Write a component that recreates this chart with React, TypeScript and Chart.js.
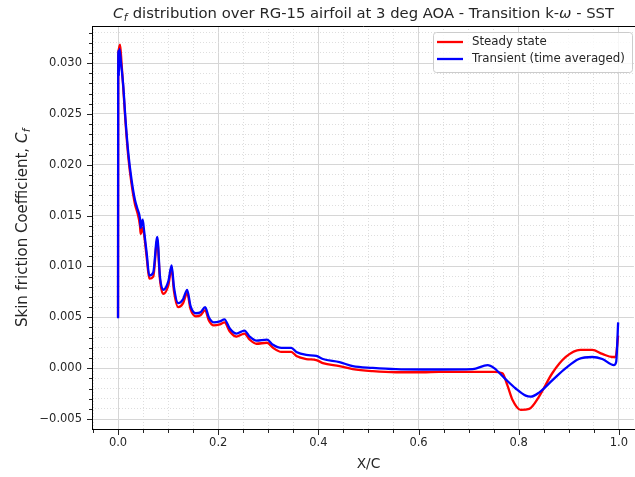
import React, { useEffect, useRef } from "react";
import { Chart, registerables } from "chart.js";

Chart.register(...registerables);

// Chordwise stations and skin friction, steady RANS solution
const steadyX = [0.0, 0.0004, 0.0012, 0.004, 0.007, 0.0105, 0.015, 0.0206, 0.027, 0.0339, 0.0385, 0.0438, 0.0452, 0.0492, 0.0518, 0.0572, 0.0624, 0.0703, 0.0783, 0.0837, 0.0902, 0.1002, 0.107, 0.1116, 0.1201, 0.13, 0.138, 0.1448, 0.1554, 0.1647, 0.1739, 0.1813, 0.1912, 0.2032, 0.2125, 0.2231, 0.2365, 0.2524, 0.2629, 0.2763, 0.2974, 0.3094, 0.3261, 0.346, 0.356, 0.3759, 0.3958, 0.409, 0.4422, 0.4687, 0.5086, 0.555, 0.608, 0.6414, 0.708, 0.751, 0.7675, 0.7775, 0.7875, 0.804, 0.821, 0.8406, 0.867, 0.894, 0.923, 0.947, 0.967, 0.987, 0.9934, 0.9986];
const steadyCf = [0.005, 0.03, 0.0313, 0.0318, 0.03, 0.0275, 0.0241, 0.0207, 0.0181, 0.0161, 0.0153, 0.014, 0.0132, 0.0138, 0.0132, 0.0109, 0.0088, 0.009, 0.0126, 0.0087, 0.0073, 0.0081, 0.0098, 0.0076, 0.006, 0.0064, 0.0074, 0.0058, 0.0051, 0.0052, 0.0057, 0.0047, 0.0042, 0.0043, 0.0045, 0.0036, 0.0031, 0.0034, 0.0028, 0.0024, 0.0025, 0.002, 0.0016, 0.0016, 0.0012, 0.0009, 0.0008, 0.0005, 0.0002, -0.0001, -0.0003, -0.0004, -0.0004, -0.00036, -0.00036, -0.00036, -0.0005, -0.0017, -0.0031, -0.0041, -0.004, -0.0028, -0.0005, 0.0011, 0.0018, 0.0018, 0.0014, 0.0011, 0.0011, 0.0032];

// Chordwise stations and skin friction, transient solution (time averaged)
const transientX = [0.0, 0.0003, 0.0008, 0.0016, 0.0028, 0.006, 0.0105, 0.015, 0.0206, 0.027, 0.0339, 0.0385, 0.0438, 0.0452, 0.0492, 0.0518, 0.0572, 0.0624, 0.0703, 0.0783, 0.0837, 0.0902, 0.1002, 0.107, 0.1116, 0.1201, 0.13, 0.138, 0.1448, 0.1554, 0.1647, 0.1739, 0.1813, 0.1912, 0.2032, 0.2125, 0.2231, 0.2365, 0.2524, 0.2629, 0.2763, 0.2974, 0.3094, 0.3261, 0.346, 0.356, 0.3759, 0.3958, 0.409, 0.4422, 0.4687, 0.5086, 0.555, 0.608, 0.6414, 0.708, 0.738, 0.751, 0.774, 0.794, 0.814, 0.824, 0.8406, 0.867, 0.894, 0.92, 0.947, 0.967, 0.99, 0.9946, 0.9986];
const transientCf = [0.0049, 0.029, 0.0312, 0.0287, 0.0314, 0.03, 0.0277, 0.0244, 0.0211, 0.0185, 0.0165, 0.0157, 0.0147, 0.0138, 0.0146, 0.0136, 0.0113, 0.0091, 0.0094, 0.0129, 0.009, 0.0077, 0.0085, 0.0101, 0.008, 0.0064, 0.0068, 0.0077, 0.0061, 0.0054, 0.0055, 0.006, 0.005, 0.0045, 0.0046, 0.0048, 0.0039, 0.0034, 0.0037, 0.0031, 0.0027, 0.0028, 0.0023, 0.002, 0.002, 0.0016, 0.0013, 0.0012, 0.0009, 0.0006, 0.0002, 0.00003, -0.0001, -0.00013, -0.00013, -0.0001, 0.0003, 0.0, -0.0011, -0.002, -0.0027, -0.0028, -0.0024, -0.0012, 0.0, 0.0009, 0.0011, 0.0009, 0.0003, 0.0006, 0.0045];

const seriesLabels = ["Steady state", "Transient (time averaged)"];
const seriesColors = ["#ff0000", "#0000ff"];

// Axis ticks: labelled major steps and unlabelled minor steps
const xMajorStep = 0.2;
const xMinorStep = 0.05;
const yMajorStep = 0.005;
const yMinorStep = 0.001;
const xRange = [-0.052, 1.03];
const yRange = [-0.00598, 0.03364];

const titleParts = {
  before: " distribution over RG-15 airfoil at 3 deg AOA - Transition k-",
  omega: "\u03c9",
  after: " - SST",
};
const xAxisTitle = "X/C";
const yAxisTitle = "Skin friction Coefficient, ";

const FONT = "'DejaVu Sans', sans-serif";
const TEXT = "#262626";

const isMultiple = (v: number, step: number) => {
  const r = v / step;
  return Math.abs(r - Math.round(r)) < 1e-6;
};

const fmt = (v: number, digits: number) => {
  const s = (Math.abs(v) < 1e-12 ? 0 : v).toFixed(digits);
  return s.replace("-", "\u2212");
};

const zip = (xs: number[], ys: number[]) => xs.map((x, i) => ({ x, y: ys[i] }));

// Draws Cf with italic C and subscript f; returns the advance width
function drawCf(ctx: CanvasRenderingContext2D, x: number, y: number, size: number, draw = true) {
  ctx.font = `italic ${size}px ${FONT}`;
  const wC = ctx.measureText("C").width;
  if (draw) ctx.fillText("C", x, y);
  const sub = size * 0.7;
  ctx.font = `italic ${sub}px ${FONT}`;
  const wf = ctx.measureText("f").width;
  if (draw) ctx.fillText("f", x + wC + 0.5, y + size * 0.2);
  return wC + wf + 1;
}

const framePlugin = {
  id: "frame",
  afterDraw(chart: any) {
    const { ctx, chartArea } = chart;
    const xs = chart.scales.x;
    const ys = chart.scales.y;
    const { left, top, bottom } = chartArea;
    ctx.save();

    // spines
    ctx.strokeStyle = "#000";
    ctx.lineWidth = 1;
    ctx.beginPath();
    ctx.moveTo(left + 0.5, top);
    ctx.lineTo(left + 0.5, bottom);
    ctx.moveTo(left, top + 0.5);
    ctx.lineTo(chart.width, top + 0.5);
    ctx.moveTo(left, bottom + 0.5);
    ctx.lineTo(chart.width, bottom + 0.5);
    ctx.stroke();

    // tick marks
    ctx.strokeStyle = TEXT;
    ctx.lineWidth = 1;
    ctx.beginPath();
    xs.ticks.forEach((t: any) => {
      const px = Math.round(xs.getPixelForValue(t.value)) + 0.5;
      const len = isMultiple(t.value, xMajorStep) ? 5 : 3;
      ctx.moveTo(px, bottom + 1);
      ctx.lineTo(px, bottom + 1 + len);
    });
    ys.ticks.forEach((t: any) => {
      const py = Math.round(ys.getPixelForValue(t.value)) + 0.5;
      const len = isMultiple(t.value, yMajorStep) ? 5 : 3;
      ctx.moveTo(left, py);
      ctx.lineTo(left - len, py);
    });
    ctx.stroke();

    // title
    ctx.fillStyle = TEXT;
    ctx.textBaseline = "alphabetic";
    ctx.textAlign = "left";
    const ts = 14.8;
    const wCf = drawCf(ctx, 0, 0, ts, false);
    ctx.font = `${ts}px ${FONT}`;
    const wB = ctx.measureText(titleParts.before).width;
    const wA = ctx.measureText(titleParts.after).width;
    ctx.font = `italic ${ts}px ${FONT}`;
    const wO = ctx.measureText(titleParts.omega).width;
    const total = wCf + wB + wO + wA;
    let tx = 363.5 - total / 2;
    const ty = 18;
    tx += drawCf(ctx, tx, ty, ts);
    ctx.font = `${ts}px ${FONT}`;
    ctx.fillText(titleParts.before, tx, ty);
    tx += wB;
    ctx.font = `italic ${ts}px ${FONT}`;
    ctx.fillText(titleParts.omega, tx, ty);
    tx += wO;
    ctx.font = `${ts}px ${FONT}`;
    ctx.fillText(titleParts.after, tx, ty);

    // x axis title
    const ls = 13.8;
    ctx.font = `${ls}px ${FONT}`;
    ctx.textAlign = "center";
    ctx.fillText(xAxisTitle, 368.5, 468);

    // y axis title (rotated)
    const ys2 = 15;
    ctx.save();
    ctx.translate(27, (top + bottom) / 2);
    ctx.rotate(-Math.PI / 2);
    ctx.textAlign = "left";
    ctx.font = `${ys2}px ${FONT}`;
    const wY = ctx.measureText(yAxisTitle).width;
    const wYC = drawCf(ctx, 0, 0, ys2, false);
    let yx = -(wY + wYC) / 2;
    ctx.font = `${ys2}px ${FONT}`;
    ctx.fillText(yAxisTitle, yx, 0);
    yx += wY;
    drawCf(ctx, yx, 0, ys2);
    ctx.restore();

    // legend
    const bx = 433.5, by = 32.5, bw = 199, bh = 40, r = 3;
    ctx.beginPath();
    ctx.moveTo(bx + r, by);
    ctx.lineTo(bx + bw - r, by);
    ctx.arcTo(bx + bw, by, bx + bw, by + r, r);
    ctx.lineTo(bx + bw, by + bh - r);
    ctx.arcTo(bx + bw, by + bh, bx + bw - r, by + bh, r);
    ctx.lineTo(bx + r, by + bh);
    ctx.arcTo(bx, by + bh, bx, by + bh - r, r);
    ctx.lineTo(bx, by + r);
    ctx.arcTo(bx, by, bx + r, by, r);
    ctx.closePath();
    ctx.fillStyle = "rgba(255,255,255,0.8)";
    ctx.fill();
    ctx.strokeStyle = "#cccccc";
    ctx.lineWidth = 1;
    ctx.stroke();

    const rows = [42, 59];
    chart.data.datasets.forEach((ds: any, i: number) => {
      const ry = rows[i];
      ctx.strokeStyle = ds.borderColor;
      ctx.lineWidth = 2.3;
      ctx.beginPath();
      ctx.moveTo(437, ry);
      ctx.lineTo(463, ry);
      ctx.stroke();
      ctx.fillStyle = TEXT;
      ctx.font = `11.8px ${FONT}`;
      ctx.textAlign = "left";
      ctx.textBaseline = "middle";
      ctx.fillText(ds.label, 472, ry);
    });

    ctx.restore();
  },
};

export default function App() {
  const canvasRef = useRef<HTMLCanvasElement | null>(null);

  useEffect(() => {
    const canvas = canvasRef.current;
    if (!canvas) return;

    const gridColor = (step: number) => (c: any) =>
      c.tick && isMultiple(c.tick.value, step) ? "#d6d6d6" : "#dedede";
    const gridDash = (step: number) => (c: any) =>
      c.tick && !isMultiple(c.tick.value, step) ? [1, 2] : [];

    const chart = new Chart(canvas, {
      type: "line",
      data: {
        datasets: [
          {
            label: seriesLabels[0],
            data: zip(steadyX, steadyCf),
            borderColor: seriesColors[0],
            backgroundColor: seriesColors[0],
            borderWidth: 2.3,
            pointRadius: 0,
            cubicInterpolationMode: "monotone",
            order: 2,
          },
          {
            label: seriesLabels[1],
            data: zip(transientX, transientCf),
            borderColor: seriesColors[1],
            backgroundColor: seriesColors[1],
            borderWidth: 2.3,
            pointRadius: 0,
            cubicInterpolationMode: "monotone",
            order: 1,
          },
        ],
      },
      options: {
        animation: false,
        responsive: false,
        events: [],
        layout: { padding: { top: 26, right: 0, left: 0, bottom: 0 } },
        plugins: {
          legend: { display: false },
          title: { display: false },
          tooltip: { enabled: false },
        },
        scales: {
          x: {
            type: "linear",
            min: xRange[0],
            max: xRange[1],
            afterFit: (s: any) => {
              s.height = 48;
            },
            ticks: {
              stepSize: xMinorStep,
              autoSkip: false,
              includeBounds: false,
              maxRotation: 0,
              padding: 7,
              color: TEXT,
              font: { family: FONT, size: 11.5 },
              callback: (v: any) => (isMultiple(Number(v), xMajorStep) && Number(v) > -0.01 ? fmt(Number(v), 1) : ""),
            },
            grid: {
              drawTicks: false,
              color: gridColor(xMajorStep),
              lineWidth: 1,
            },
            border: { display: false, dash: gridDash(xMajorStep) },
          },
          y: {
            type: "linear",
            min: yRange[0],
            max: yRange[1],
            afterFit: (s: any) => {
              s.width = 92;
            },
            ticks: {
              stepSize: yMinorStep,
              autoSkip: false,
              includeBounds: false,
              padding: 10,
              color: TEXT,
              font: { family: FONT, size: 11.5 },
              callback: (v: any) => (isMultiple(Number(v), yMajorStep) ? fmt(Number(v), 3) : ""),
            },
            grid: {
              drawTicks: false,
              color: gridColor(yMajorStep),
              lineWidth: 1,
            },
            border: { display: false, dash: gridDash(yMajorStep) },
          },
        },
      },
      plugins: [framePlugin],
    } as any);

    return () => chart.destroy();
  }, []);

  return (
    <div style={{ position: "fixed", left: 0, top: 0, width: 635, height: 477, background: "#fff" }}>
      <canvas ref={canvasRef} width={635} height={477} style={{ display: "block" }} />
    </div>
  );
}
